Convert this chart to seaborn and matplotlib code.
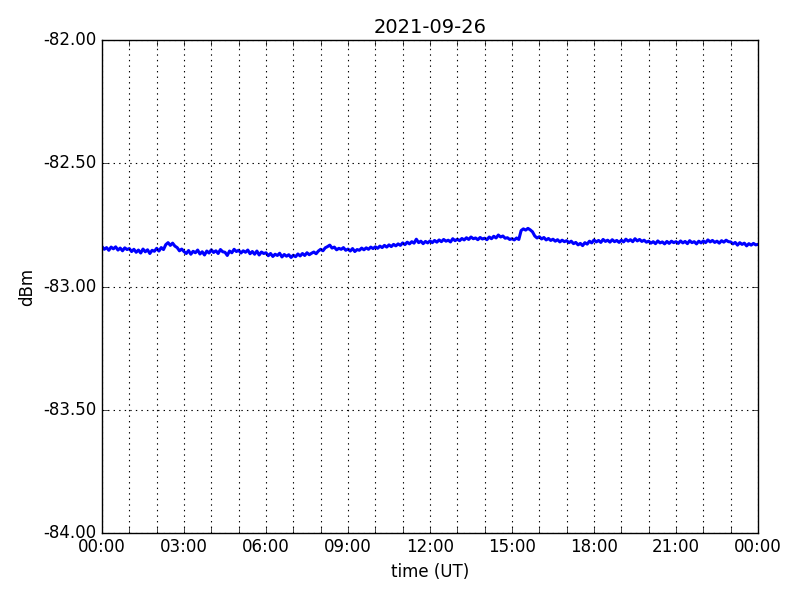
import matplotlib
matplotlib.use("Agg")
import matplotlib.pyplot as plt
import matplotlib.dates as mdates
from matplotlib.ticker import FormatStrFormatter, FuncFormatter
import pandas as pd
import seaborn as sns

plt.style.use("classic")

title = "2021-09-26"
x_label = "time (UT)"
y_label = "dBm"
start = "2021-09-26 00:00"
end = "2021-09-27 00:00"
sample_step = "5min"
y_ticks = [-84.0, -83.5, -83.0, -82.5, -82.0]

# signal level, one value every 5 minutes (rows = hours)
level = [
    -82.838, -82.849, -82.842, -82.853, -82.840, -82.847, -82.839, -82.852, -82.844, -82.855, -82.843, -82.850,
    -82.846, -82.858, -82.849, -82.861, -82.852, -82.864, -82.848, -82.859, -82.851, -82.866, -82.853, -82.857,
    -82.845, -82.856, -82.842, -82.850, -82.830, -82.822, -82.833, -82.824, -82.836, -82.842, -82.855, -82.848,
    -82.858, -82.866, -82.854, -82.869, -82.857, -82.863, -82.852, -82.868, -82.859, -82.872, -82.856, -82.864,
    -82.851, -82.862, -82.855, -82.866, -82.850, -82.859, -82.861, -82.874, -82.856, -82.863, -82.849, -82.858,
    -82.853, -82.864, -82.855, -82.861, -82.852, -82.867, -82.858, -82.869, -82.856, -82.872, -82.860, -82.866,
    -82.863, -82.875, -82.866, -82.878, -82.869, -82.874, -82.865, -82.880, -82.870, -82.877, -82.871, -82.882,
    -82.873, -82.879, -82.868, -82.876, -82.866, -82.874, -82.863, -82.871, -82.865, -82.860, -82.867, -82.856,
    -82.849, -82.855, -82.843, -82.838, -82.832, -82.844, -82.840, -82.851, -82.845, -82.849, -82.842, -82.853,
    -82.848, -82.856, -82.846, -82.858, -82.850, -82.853, -82.844, -82.851, -82.843, -82.849, -82.840, -82.846,
    -82.839, -82.845, -82.836, -82.842, -82.833, -82.840, -82.831, -82.838, -82.829, -82.835, -82.827, -82.833,
    -82.823, -82.830, -82.820, -82.827, -82.818, -82.824, -82.808, -82.822, -82.816, -82.826, -82.817, -82.823,
    -82.815, -82.822, -82.813, -82.820, -82.811, -82.818, -82.809, -82.816, -82.812, -82.819, -82.806, -82.814,
    -82.808, -82.814, -82.805, -82.811, -82.802, -82.809, -82.799, -82.806, -82.803, -82.810, -82.801, -82.807,
    -82.804, -82.810, -82.799, -82.806, -82.796, -82.803, -82.791, -82.799, -82.795, -82.804, -82.802, -82.809,
    -82.806, -82.811, -82.803, -82.809, -82.773, -82.766, -82.771, -82.764, -82.770, -82.778, -82.795, -82.803,
    -82.798, -82.807, -82.801, -82.811, -82.805, -82.813, -82.808, -82.816, -82.810, -82.819, -82.812, -82.818,
    -82.814, -82.822, -82.816, -82.826, -82.821, -82.831, -82.825, -82.834, -82.822, -82.828, -82.816, -82.823,
    -82.811, -82.819, -82.813, -82.821, -82.809, -82.817, -82.812, -82.820, -82.810, -82.818, -82.813, -82.821,
    -82.812, -82.819, -82.808, -82.816, -82.810, -82.818, -82.806, -82.815, -82.809, -82.817, -82.812, -82.820,
    -82.816, -82.824, -82.818, -82.826, -82.815, -82.823, -82.819, -82.827, -82.817, -82.825, -82.816, -82.822,
    -82.818, -82.825, -82.815, -82.823, -82.817, -82.826, -82.814, -82.822, -82.818, -82.827, -82.816, -82.823,
    -82.815, -82.822, -82.811, -82.819, -82.813, -82.821, -82.816, -82.824, -82.814, -82.820, -82.812, -82.818,
    -82.819, -82.827, -82.821, -82.832, -82.822, -82.829, -82.824, -82.835, -82.826, -82.832, -82.825, -82.831,
    -82.829,
]

times = pd.date_range(start, periods=len(level), freq=sample_step)
df = pd.DataFrame({"time": times, "dBm": level})

fig = plt.figure(figsize=(8, 6), dpi=100)
ax = fig.add_axes([0.1275, 0.112, 0.82, 0.821])

sns.lineplot(data=df, x="time", y="dBm", ax=ax, color="blue", linewidth=2.2)

ax.set_xlim(pd.Timestamp(start), pd.Timestamp(end))
ax.set_ylim(y_ticks[0], y_ticks[-1])
ax.set_yticks(y_ticks)
ax.yaxis.set_major_formatter(FormatStrFormatter("%.2f"))

ax.xaxis.set_major_locator(mdates.HourLocator(interval=1))


def hour_fmt(x, pos):
    d = mdates.num2date(x)
    if d.hour % 3 == 0:
        return d.strftime("%H:%M")
    return ""


ax.xaxis.set_major_formatter(FuncFormatter(hour_fmt))
ax.grid(True, color="black", linestyle=":", linewidth=0.8)

ax.set_title(title, fontsize=14)
ax.set_xlabel(x_label, fontsize=12)
ax.set_ylabel(y_label, fontsize=12)

fig.savefig("out.png", dpi=100)
